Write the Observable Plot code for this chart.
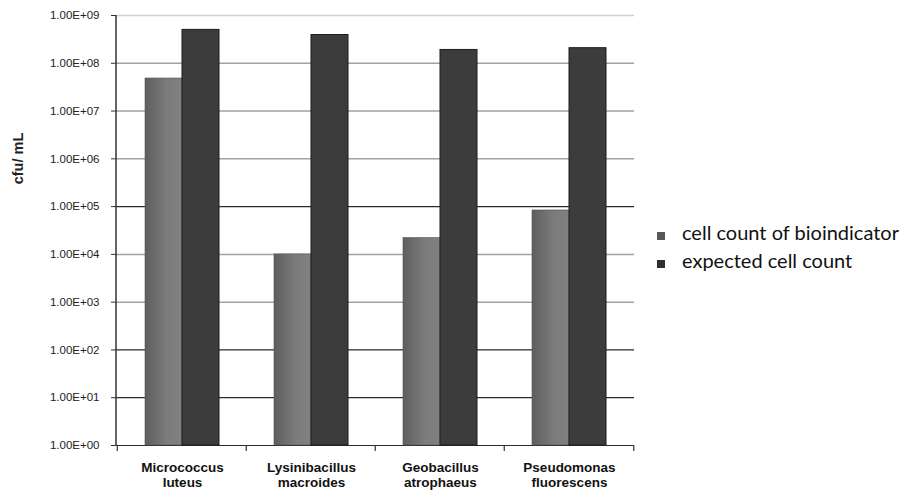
<!DOCTYPE html>
<html><head><meta charset="utf-8">
<script src="https://cdn.jsdelivr.net/npm/d3@7"></script>
<script src="https://cdn.jsdelivr.net/npm/@observablehq/plot@0.6"></script>
<style>
body{margin:0;background:#fff;}
#wrap{position:relative;width:903px;height:490px;overflow:hidden;}
.leg{position:absolute;left:657px;font-family:Lato,"Open Sans",sans-serif;font-size:20px;color:#111;white-space:nowrap;line-height:1;}
.leg span.sw{position:absolute;left:0;width:8px;height:8px;}
.leg span.tx{position:absolute;left:25px;top:-10px;}
</style></head><body><div id="wrap"></div>
<script>
const categories = ["Micrococcus luteus","Lysinibacillus macroides","Geobacillus atrophaeus","Pseudomonas fluorescens"];
const categoryLabels = ["Micrococcus\nluteus","Lysinibacillus\nmacroides","Geobacillus\natrophaeus","Pseudomonas\nfluorescens"];
const seriesNames = ["cell count of bioindicator","expected cell count"];
const bioindicator = [4.8e7, 1.0e4, 2.2e4, 8.3e4];
const expected = [5.0e8, 3.9e8, 1.9e8, 2.07e8];
const yTicks = [1e0,1e1,1e2,1e3,1e4,1e5,1e6,1e7,1e8,1e9];
const yLabel = "cfu/ mL";

const W = 903, H = 490, mL = 116, mR = 269, mT = 15, mB = 45;
const padInner = 0.4286;
const step = (W - mL - mR) / categories.length;
const halfBar = step * (1 - padInner) / 2;

const bioRows = categories.map((c, i) => ({category: c, value: bioindicator[i]}));
const expRows = categories.map((c, i) => ({category: c, value: expected[i]}));
const labelOf = new Map(categories.map((c, i) => [c, categoryLabels[i]]));
const exp10 = d => Math.round(Math.log10(d));
const fmt = d => { const [m, e] = d.toExponential(2).toUpperCase().split("E"); return m + "E" + e[0] + e.slice(1).padStart(2, "0"); };

const light = yTicks.filter(d => exp10(d) === 9);
const mid = yTicks.filter(d => [3,4,6,7,8].includes(exp10(d)));
const dark = yTicks.filter(d => [0,1,2,5].includes(exp10(d)));

const chart = Plot.plot({
  width: W, height: H,
  marginLeft: mL, marginRight: mR, marginTop: mT, marginBottom: mB,
  style: {fontFamily: "'Liberation Sans', Arial, sans-serif", background: "#fff"},
  x: {domain: categories, paddingInner: padInner, paddingOuter: padInner / 2, axis: null, label: null},
  y: {type: "log", domain: [1, 1e9], axis: null, label: null},
  marks: [
    Plot.ruleY(light, {stroke: "#cfcfcf", strokeWidth: 1.5}),
    Plot.ruleY(mid, {stroke: "#a2a2a2", strokeWidth: 1.5}),
    Plot.ruleY(dark, {stroke: "#2a2a2a", strokeWidth: 1.2}),
    Plot.barY(bioRows, {x: "category", y1: 1, y2: "value", fill: "url(#gGray)", stroke: "#555", strokeWidth: 0.6, insetRight: halfBar}),
    Plot.barY(expRows, {x: "category", y1: 1, y2: "value", fill: "#3c3c3c", stroke: "#1c1c1c", strokeWidth: 1, insetLeft: halfBar}),
    Plot.axisY({ticks: yTicks, tickFormat: fmt, tickSize: 5, tickPadding: 12, fontSize: 11.5, stroke: "#333", fill: "#222", label: null}),
    Plot.axisX({tickSize: 0, tickPadding: 16, tickFormat: d => labelOf.get(d), fontSize: 13.5, fontWeight: "bold", lineHeight: 1.1, fill: "#111", label: null}),
    Plot.text([yLabel], {text: d => d, frameAnchor: "top-left", dx: -98, dy: 143, rotate: -90, textAnchor: "middle", lineAnchor: "middle", fontSize: 14.5, fontWeight: "bold", fill: "#222"})
  ]
});

const svg = d3.select(chart);
const defs = svg.insert("defs", ":first-child");
const g = defs.append("linearGradient").attr("id", "gGray").attr("x1", "0").attr("x2", "1").attr("y1", "0").attr("y2", "0");
g.append("stop").attr("offset", "0").attr("stop-color", "#5e5e5e");
g.append("stop").attr("offset", "0.6").attr("stop-color", "#7c7c7c");
g.append("stop").attr("offset", "1").attr("stop-color", "#808080");

const ys = chart.scale("y");
const yTop = ys.apply(1e9), yBot = ys.apply(1);
svg.append("line").attr("x1", mL).attr("x2", mL).attr("y1", yTop).attr("y2", yBot + 1).attr("stroke", "#333").attr("stroke-width", 1.5);
const xs = chart.scale("x");
const bounds = categories.map(c => xs.apply(c) - (step - xs.bandwidth) / 2).concat([xs.apply(categories[categories.length - 1]) + xs.bandwidth + (step - xs.bandwidth) / 2]);
svg.append("g").selectAll("line").data(bounds).join("line")
  .attr("x1", d => d).attr("x2", d => d).attr("y1", yBot).attr("y2", yBot + 6)
  .attr("stroke", "#333").attr("stroke-width", 1.2);

const wrap = document.getElementById("wrap");
wrap.appendChild(chart);
const legColors = ["#575757", "#2e2e2e"];
const legTops = [232, 260];
seriesNames.forEach((name, i) => {
  const d = document.createElement("div");
  d.className = "leg";
  d.style.top = legTops[i] + "px";
  d.innerHTML = `<span class="sw" style="background:${legColors[i]}"></span><span class="tx">${name}</span>`;
  wrap.appendChild(d);
});
</script>
</body></html>
